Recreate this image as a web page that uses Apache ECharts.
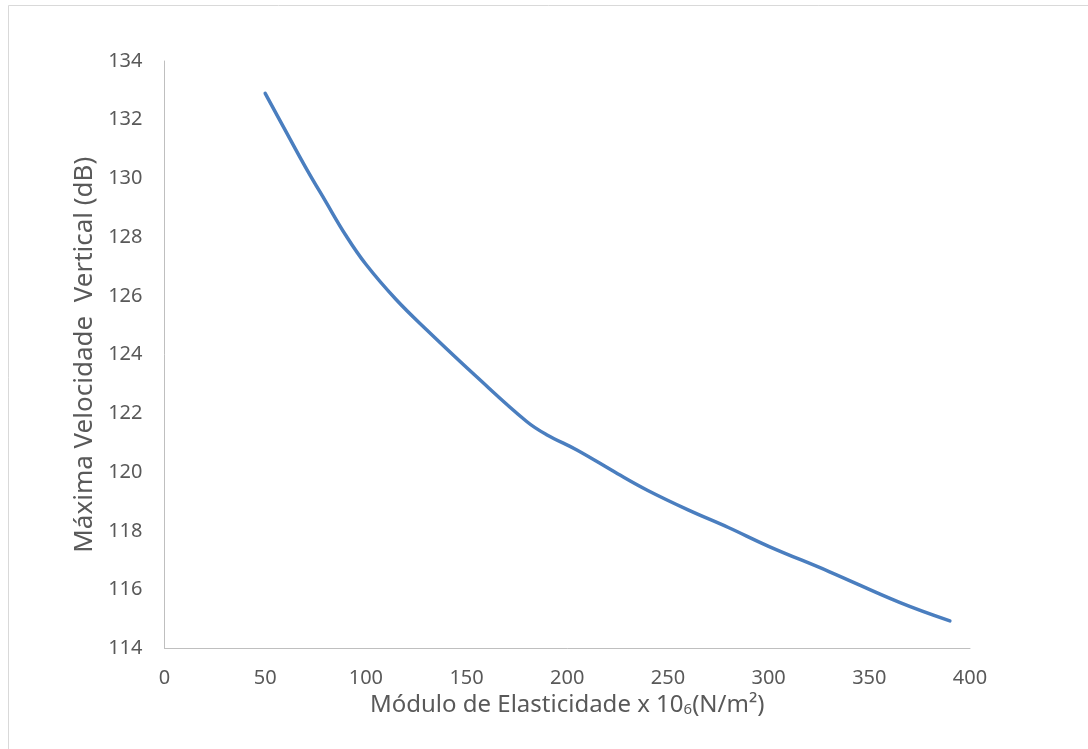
<!DOCTYPE html>
<html>
<head>
<meta charset="utf-8">
<script src="https://cdn.jsdelivr.net/npm/echarts@6/dist/echarts.min.js"></script>
<style>
  html, body { margin: 0; padding: 0; background: #ffffff; }
  #chart { width: 1088px; height: 749px; }
</style>
</head>
<body>
<div id="chart"></div>
<script>
// Módulo de elasticidade (x 10^6 N/m²)
const modulus = [50, 60, 70, 80, 90, 100, 115, 130, 155, 180, 190, 205, 225, 240, 260, 280, 300, 330, 365, 390];
// Máxima velocidade vertical (dB)
const maxVelocity = [132.9, 131.64, 130.39, 129.22, 128.07, 127.08, 125.88, 124.86, 123.25, 121.72, 121.27, 120.75, 119.95, 119.38, 118.72, 118.12, 117.48, 116.62, 115.57, 114.94];

const xTicks = { min: 0, max: 400, interval: 50 };
const yTicks = { min: 114, max: 134, interval: 2 };

const xTitle = '{a|Módulo de Elasticidade x 10}{b|6}{a|(N/m²)}';
const yTitle = 'Máxima Velocidade  Vertical (dB)';

const FONT = '"Noto Sans", "Open Sans", sans-serif';
const TEXT = '#595959';
const AXIS = '#bfbfbf';

const chart = echarts.init(document.getElementById('chart'), null, { renderer: 'canvas' });

chart.setOption({
  backgroundColor: '#ffffff',
  animation: false,
  graphic: [{
    type: 'rect',
    shape: { x: 8.5, y: 5.5, width: 1200, height: 1000 },
    style: { fill: 'none', stroke: '#d9d9d9', lineWidth: 1 },
    silent: true
  }],
  grid: {
    left: 164.5, right: 118, top: 61, bottom: 100.5,
    containLabel: false,
    outerBoundsMode: 'none'
  },
  xAxis: {
    type: 'value',
    min: xTicks.min, max: xTicks.max, interval: xTicks.interval,
    name: xTitle,
    nameLocation: 'middle',
    nameGap: 29,
    nameTextStyle: {
      verticalAlign: 'top',
      rich: {
        a: { fontFamily: FONT, fontSize: 24, color: TEXT },
        b: { fontFamily: FONT, fontSize: 15, color: TEXT, padding: [9, 0, 0, 0] }
      }
    },
    axisLine: { show: true, lineStyle: { color: AXIS, width: 1 } },
    axisTick: { show: false },
    splitLine: { show: false },
    axisLabel: { fontFamily: FONT, fontSize: 20, color: TEXT, margin: 20 }
  },
  yAxis: {
    type: 'value',
    min: yTicks.min, max: yTicks.max, interval: yTicks.interval,
    name: yTitle,
    nameLocation: 'middle',
    nameGap: 66,
    nameTextStyle: { fontFamily: FONT, fontSize: 26, color: TEXT },
    axisLine: { show: true, lineStyle: { color: AXIS, width: 1 } },
    axisTick: { show: false },
    splitLine: { show: false },
    axisLabel: { fontFamily: FONT, fontSize: 20, color: TEXT, margin: 22 }
  },
  series: [{
    type: 'line',
    data: modulus.map((x, i) => [x, maxVelocity[i]]),
    smooth: 0.4,
    showSymbol: false,
    lineStyle: { color: '#4a7ebf', width: 3.5, cap: 'round', join: 'round' },
    itemStyle: { color: '#4a7ebf' }
  }]
});
</script>
</body>
</html>
